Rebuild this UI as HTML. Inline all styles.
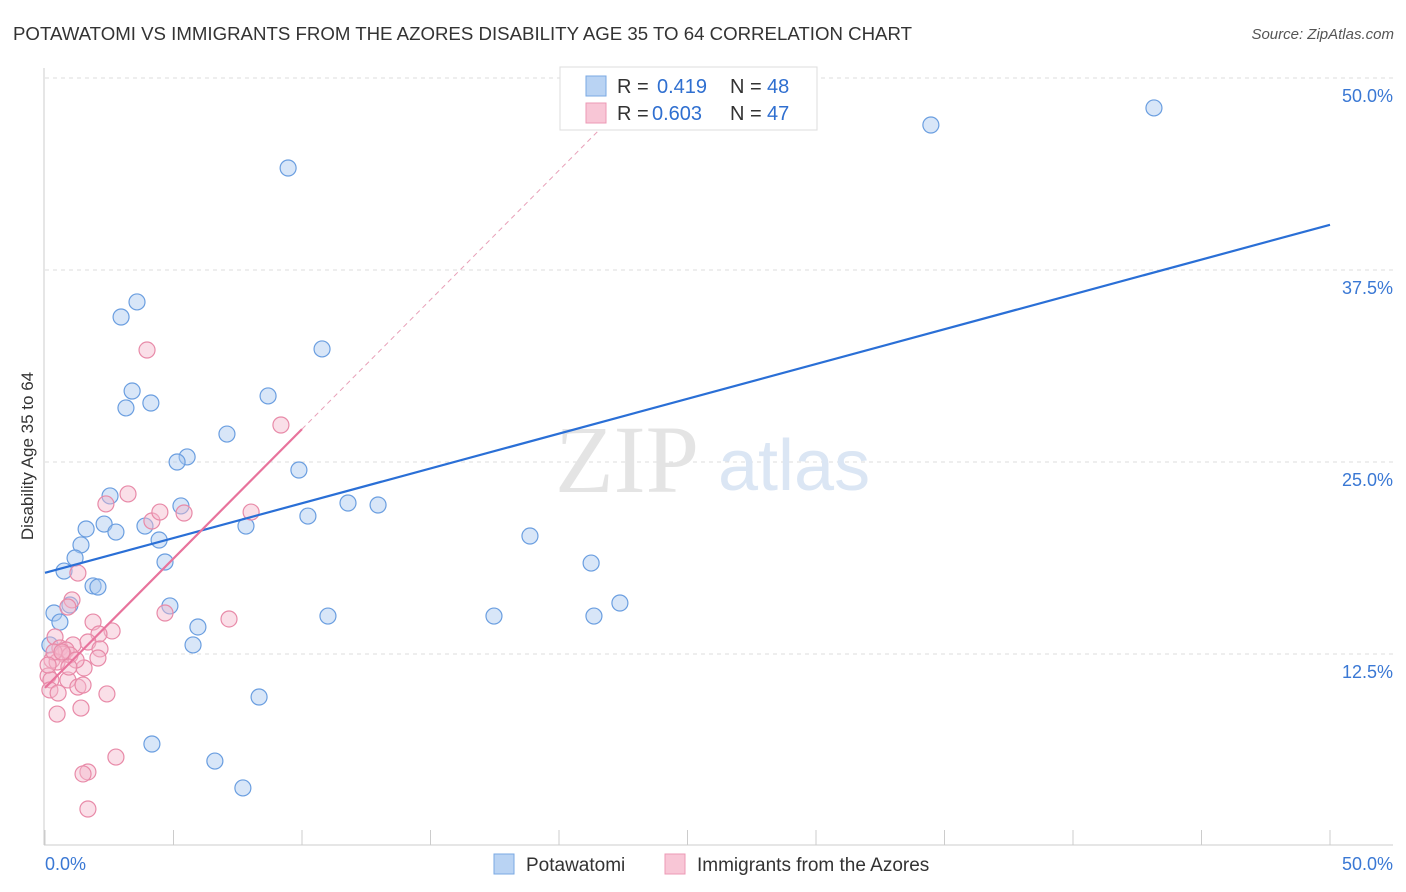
<!DOCTYPE html>
<html><head><meta charset="utf-8"><style>
body{margin:0;background:#fff;font-family:"Liberation Sans",sans-serif}
svg{display:block}
</style></head><body>
<svg id="chart" width="1406" height="892" xmlns="http://www.w3.org/2000/svg">
<text x="13" y="40" font-size="18" fill="#333" textLength="899" lengthAdjust="spacingAndGlyphs">POTAWATOMI VS IMMIGRANTS FROM THE AZORES DISABILITY AGE 35 TO 64 CORRELATION CHART</text>
<text x="1394" y="39" font-size="15" fill="#555" text-anchor="end" font-style="italic">Source: ZipAtlas.com</text>
<text transform="translate(33,456) rotate(-90)" font-size="17" fill="#333" text-anchor="middle">Disability Age 35 to 64</text>
<g id="grid"></g>
<text x="555" y="492" font-size="96" fill="#e4e4e4" font-family="Liberation Serif">ZIP</text>
<text x="718" y="490" font-size="72" fill="#dbe6f4">atlas</text>
<g id="marks"></g>
<g>
<rect x="560" y="67" width="257" height="63" fill="#fff" stroke="#ddd"/>
<rect x="586" y="76" width="20" height="20" fill="#b9d3f3" stroke="#7aa8e3"/>
<text x="617" y="93" font-size="20" fill="#333">R =</text>
<text x="657" y="93" font-size="20" fill="#2f6fd0">0.419</text>
<text x="730" y="93" font-size="20" fill="#333">N =</text>
<text x="767" y="93" font-size="20" fill="#2f6fd0">48</text>
<rect x="586" y="103" width="20" height="20" fill="#f8c6d6" stroke="#ec99b5"/>
<text x="617" y="120" font-size="20" fill="#333">R =</text>
<text x="652" y="120" font-size="20" fill="#2f6fd0">0.603</text>
<text x="730" y="120" font-size="20" fill="#333">N =</text>
<text x="767" y="120" font-size="20" fill="#2f6fd0">47</text>
</g>
<g>
<rect x="494" y="854" width="20" height="20" fill="#b9d3f3" stroke="#7aa8e3"/>
<text x="526" y="871" font-size="19" fill="#333">Potawatomi</text>
<rect x="665" y="854" width="20" height="20" fill="#f8c6d6" stroke="#ec99b5"/>
<text x="697" y="871" font-size="19" fill="#333">Immigrants from the Azores</text>
</g>
</svg>
<script>
const yTicks=[12.5,25,37.5,50];
const yTickLabels=["12.5%","25.0%","37.5%","50.0%"];
const xTicks=[0,5,10,15,20,25,30,35,40,45,50];
const blueX=[9.46,34.47,43.15,3.58,2.96,10.78,3.39,8.68,3.15,4.12,7.08,5.53,5.14,9.88,2.53,5.29,2.30,1.60,2.76,3.89,7.82,10.23,11.79,12.96,18.87,4.44,1.40,1.17,0.74,4.67,21.25,1.87,2.06,0.97,0.35,4.86,0.58,11.01,17.47,21.36,22.37,5.95,5.76,8.33,4.16,6.61,7.70,0.19];
const blueY=[44.14,46.94,48.05,35.42,34.44,32.36,29.62,29.30,28.52,28.84,26.82,25.33,25.0,24.48,22.79,22.14,20.96,20.64,20.44,20.83,20.83,21.48,22.33,22.2,20.18,19.92,19.6,18.75,17.9,18.49,18.42,16.93,16.86,15.69,15.17,15.63,14.58,14.97,14.97,14.97,15.82,14.26,13.09,9.7,6.64,5.53,3.78,13.09];
const pinkX=[3.97,9.18,3.23,2.37,4.16,4.47,5.41,8.02,1.28,1.05,0.89,4.67,7.16,1.87,2.61,2.10,0.39,1.67,0.58,1.09,0.82,2.14,0.70,0.97,0.27,2.06,0.47,1.52,0.12,0.23,0.89,1.28,1.48,0.19,0.51,2.41,1.40,0.47,2.76,1.67,1.48,1.67,0.35,0.66,1.21,0.93,0.12];
const pinkY=[32.29,27.41,22.92,22.27,21.16,21.74,21.68,21.74,17.77,16.02,15.56,15.17,14.78,14.58,14.0,13.8,13.61,13.28,12.89,13.09,12.76,12.83,12.5,12.43,12.11,12.24,11.98,11.59,11.07,10.81,10.81,10.35,10.48,10.16,9.96,9.9,8.98,8.59,5.79,4.82,4.69,2.41,12.63,12.63,12.11,11.65,11.78];
const NS="http://www.w3.org/2000/svg";
const X=v=>45+v*25.7, Y=v=>846-v*15.36;
function mk(t,a,p){const e=document.createElementNS(NS,t);for(const k in a)e.setAttribute(k,a[k]);p.appendChild(e);return e;}
const grid=document.getElementById('grid'),marks=document.getElementById('marks');
yTicks.forEach((t,i)=>{
 const l=mk('line',{x1:45,x2:1393,y1:Y(t),y2:Y(t),stroke:'#ddd','stroke-dasharray':'4,4'},grid);
 
 
 const tx=mk('text',{x:1393,y:Y(t)+24,'font-size':18,fill:'#3a78d4','text-anchor':'end'},grid);
 tx.textContent=yTickLabels[i];
 
 
});
mk('line',{x1:44,x2:44,y1:68,y2:845,stroke:'#ccc'},grid);
mk('line',{x1:44,x2:1393,y1:845,y2:845,stroke:'#ccc'},grid);
xTicks.forEach(t=>{const l=mk('line',{x1:X(t),x2:X(t),y1:830,y2:845,stroke:'#ccc'},grid);
 
 });
const x0=mk('text',{x:45,y:870,'font-size':18,fill:'#3a78d4'},grid);x0.textContent="0.0%";


const x1=mk('text',{x:1393,y:870,'font-size':18,fill:'#3a78d4','text-anchor':'end'},grid);x1.textContent="50.0%";


function fit(xs,ys){const n=xs.length;let mx=0,my=0;for(let i=0;i<n;i++){mx+=xs[i];my+=ys[i];}mx/=n;my/=n;let sxy=0,sxx=0;for(let i=0;i<n;i++){sxy+=(xs[i]-mx)*(ys[i]-my);sxx+=(xs[i]-mx)**2;}const b=sxy/sxx;return [my-b*mx,b];}
function pts(xs,ys,fill,stroke,name){xs.forEach((x,i)=>{const c=mk('circle',{cx:X(x),cy:Y(ys[i]),r:8,fill:fill,'fill-opacity':0.45,stroke:stroke,'stroke-width':1.2},marks);
 
 });}
pts(blueX,blueY,'#a9c8ef','#6a9ee0','potawatomi-point');
pts(pinkX,pinkY,'#f5b8cc','#e88aa8','azores-point');
const [ba,bb]=fit(blueX,blueY);
const bl=mk('line',{x1:X(0),y1:Y(ba),x2:X(50),y2:Y(ba+bb*50),stroke:'#2a6fd6','stroke-width':2.2},marks);


const [pa,pb]=fit(pinkX,pinkY);
const pmax=Math.ceil(Math.max(...pinkX));
const xe=(50-pa)/pb;
const pd=mk('line',{x1:X(pmax),y1:Y(pa+pb*pmax),x2:X(xe),y2:Y(50),stroke:'#e8a0b8','stroke-width':1,'stroke-dasharray':'5,4'},marks);


const pl=mk('line',{x1:X(0),y1:Y(pa),x2:X(pmax),y2:Y(pa+pb*pmax),stroke:'#e8739c','stroke-width':2.2},marks);


</script>
</body></html>
